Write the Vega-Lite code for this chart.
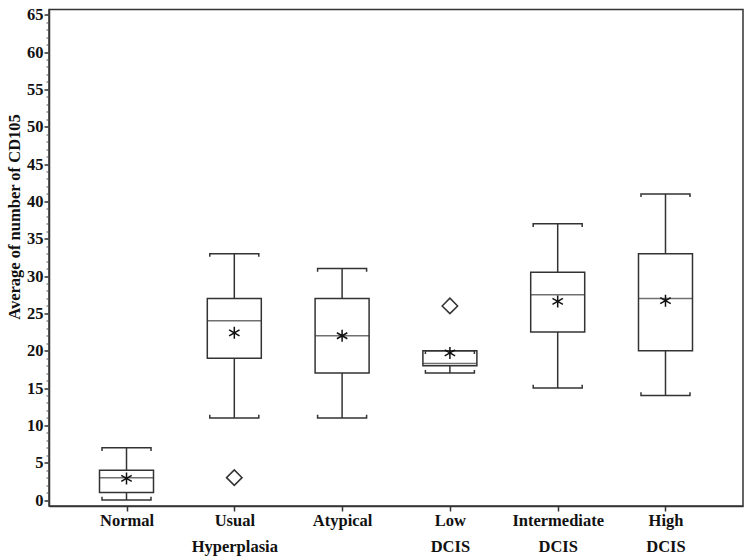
{
  "$schema": "https://vega.github.io/schema/vega-lite/v6.json",
  "width": 694,
  "height": 496.5,
  "autosize": "none",
  "padding": {"left": 49, "top": 9.5, "right": 7, "bottom": 53},
  "background": "white",
  "config": {
    "font": "Liberation Serif",
    "view": {"stroke": "#333", "strokeWidth": 1.5}
  },
  "datasets": {
    "stats": [
      {"group": "Normal", "lower": 0, "q1": 1, "median": 3, "q3": 4, "upper": 7, "mean": 2.9},
      {"group": "Usual Hyperplasia", "lower": 11, "q1": 19, "median": 24, "q3": 27, "upper": 33, "mean": 22.4},
      {"group": "Atypical", "lower": 11, "q1": 17, "median": 22, "q3": 27, "upper": 31, "mean": 22},
      {"group": "Low DCIS", "lower": 17, "q1": 18, "median": 18.3, "q3": 20, "upper": 20, "mean": 19.7},
      {"group": "Intermediate DCIS", "lower": 15, "q1": 22.5, "median": 27.5, "q3": 30.5, "upper": 37, "mean": 26.6},
      {"group": "High DCIS", "lower": 14, "q1": 20, "median": 27, "q3": 33, "upper": 41, "mean": 26.7}
    ],
    "outliers": [
      {"group": "Usual Hyperplasia", "value": 3},
      {"group": "Low DCIS", "value": 26}
    ]
  },
  "resolve": {"axis": {"y": "independent"}},
  "layer": [
    {
      "data": {"name": "stats"},
      "mark": {"type": "rule", "color": "#333", "strokeWidth": 1.5},
      "encoding": {
        "x": {
          "field": "group", "type": "nominal",
          "sort": ["Normal", "Usual Hyperplasia", "Atypical", "Low DCIS", "Intermediate DCIS", "High DCIS"],
          "scale": {"type": "point", "padding": 0.719},
          "axis": {
            "title": null, "labelAngle": 0, "labelExpr": "split(datum.label, ' ')",
            "labelFont": "Liberation Serif", "labelFontSize": 16.5, "labelFontWeight": "bold",
            "labelColor": "#111", "labelLineHeight": 26, "labelPadding": 1,
            "tickSize": 5, "tickColor": "#333", "tickWidth": 1.5,
            "domainColor": "#333", "domainWidth": 1.5
          }
        },
        "y": {
          "field": "lower", "type": "quantitative",
          "scale": {"domain": [-0.8, 65.7], "nice": false, "zero": false},
          "axis": {
            "title": "Average of number of CD105",
            "titleFont": "Liberation Serif", "titleFontSize": 16.5, "titleFontWeight": "bold",
            "titleColor": "#111", "titleY": 207, "titlePadding": 4,
            "values": [0, 5, 10, 15, 20, 25, 30, 35, 40, 45, 50, 55, 60, 65],
            "labelFont": "Liberation Serif", "labelFontSize": 16.5, "labelFontWeight": "bold",
            "labelColor": "#111", "labelPadding": 1,
            "tickSize": 5, "tickColor": "#333", "tickWidth": 1.5,
            "domainColor": "#333", "domainWidth": 1.5, "grid": false, "orient": "left"
          }
        },
        "y2": {"field": "upper"}
      }
    },
    {
      "data": {"name": "stats"},
      "mark": {"type": "bar", "fill": "white", "stroke": "#333", "strokeWidth": 1.5, "width": 54},
      "encoding": {
        "x": {"field": "group", "type": "nominal", "sort": ["Normal", "Usual Hyperplasia", "Atypical", "Low DCIS", "Intermediate DCIS", "High DCIS"]},
        "y": {
          "field": "q1", "type": "quantitative",
          "axis": {
            "title": null, "labels": false, "domain": false, "grid": false,
            "values": [0,1,2,3,4,5,6,7,8,9,10,11,12,13,14,15,16,17,18,19,20,21,22,23,24,25,26,27,28,29,30,31,32,33,34,35,36,37,38,39,40,41,42,43,44,45,46,47,48,49,50,51,52,53,54,55,56,57,58,59,60,61,62,63,64,65],
            "tickSize": 3, "tickColor": "#555", "tickWidth": 1, "orient": "left"
          }
        },
        "y2": {"field": "q3"}
      }
    },
    {
      "data": {"name": "stats"},
      "mark": {"type": "tick", "color": "#333", "size": 54, "thickness": 1.5},
      "encoding": {
        "x": {"field": "group", "type": "nominal", "sort": ["Normal", "Usual Hyperplasia", "Atypical", "Low DCIS", "Intermediate DCIS", "High DCIS"]},
        "y": {"field": "median", "type": "quantitative", "axis": null}
      }
    },
    {
      "data": {"name": "stats"},
      "mark": {"type": "point", "filled": false, "stroke": "#333", "strokeWidth": 1.5, "opacity": 1, "size": 2401,
               "shape": "M-1,0.13L-1,0L1,0L1,0.13"},
      "encoding": {
        "x": {"field": "group", "type": "nominal", "sort": ["Normal", "Usual Hyperplasia", "Atypical", "Low DCIS", "Intermediate DCIS", "High DCIS"]},
        "y": {"field": "upper", "type": "quantitative", "axis": null}
      }
    },
    {
      "data": {"name": "stats"},
      "mark": {"type": "point", "filled": false, "stroke": "#333", "strokeWidth": 1.5, "opacity": 1, "size": 2401,
               "shape": "M-1,-0.13L-1,0L1,0L1,-0.13"},
      "encoding": {
        "x": {"field": "group", "type": "nominal", "sort": ["Normal", "Usual Hyperplasia", "Atypical", "Low DCIS", "Intermediate DCIS", "High DCIS"]},
        "y": {"field": "lower", "type": "quantitative", "axis": null}
      }
    },
    {
      "data": {"name": "stats"},
      "mark": {"type": "point", "filled": false, "stroke": "#111", "strokeWidth": 1.5, "opacity": 1, "size": 144,
               "shape": "M0,-1L0,1M-0.87,-0.5L0.87,0.5M-0.87,0.5L0.87,-0.5"},
      "encoding": {
        "x": {"field": "group", "type": "nominal", "sort": ["Normal", "Usual Hyperplasia", "Atypical", "Low DCIS", "Intermediate DCIS", "High DCIS"]},
        "y": {"field": "mean", "type": "quantitative", "axis": null}
      }
    },
    {
      "data": {"name": "outliers"},
      "mark": {"type": "point", "filled": false, "stroke": "#333", "strokeWidth": 1.5, "opacity": 1, "size": 240, "shape": "diamond"},
      "encoding": {
        "x": {"field": "group", "type": "nominal", "sort": ["Normal", "Usual Hyperplasia", "Atypical", "Low DCIS", "Intermediate DCIS", "High DCIS"]},
        "y": {"field": "value", "type": "quantitative", "axis": null}
      }
    }
  ]
}
